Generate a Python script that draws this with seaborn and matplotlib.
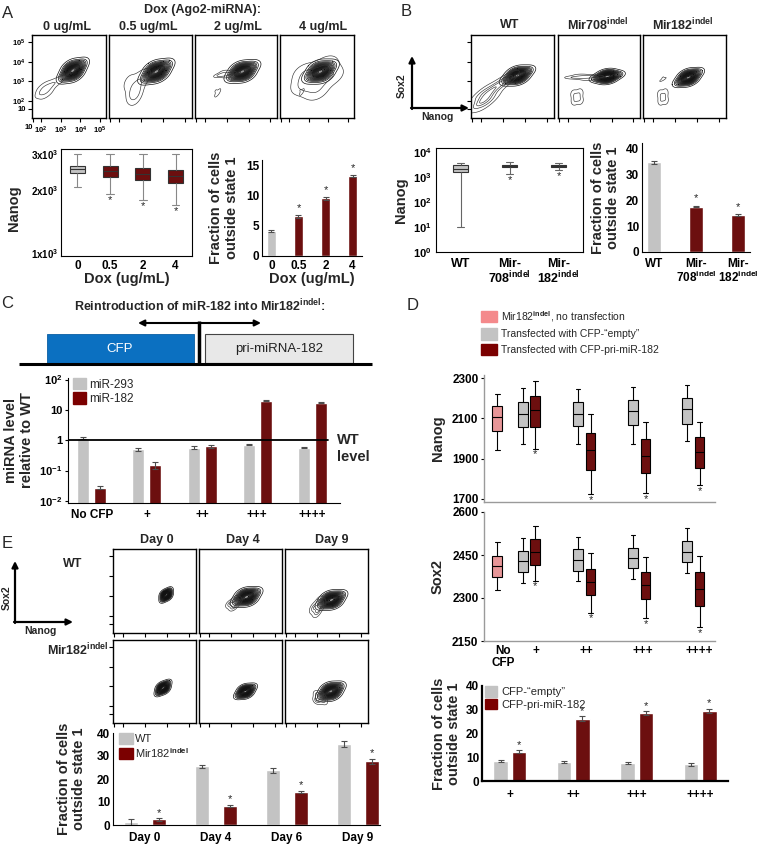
import numpy as np
import pandas as pd
import matplotlib
matplotlib.use("Agg")
import matplotlib.pyplot as plt
import matplotlib.patches as mpatches
from matplotlib.ticker import NullLocator
import seaborn as sns

sns.set_style("ticks")
plt.rcParams["font.family"] = ["Liberation Sans", "DejaVu Sans"]
plt.rcParams["font.weight"] = "bold"
plt.rcParams["axes.labelweight"] = "bold"
plt.rcParams["mathtext.fontset"] = "custom"
plt.rcParams["mathtext.rm"] = "Liberation Sans"
plt.rcParams["mathtext.bf"] = "Liberation Sans:bold"
plt.rcParams["mathtext.it"] = "Liberation Sans:italic"
plt.rcParams["axes.edgecolor"] = "black"
plt.rcParams["axes.facecolor"] = "none"
plt.rcParams["xtick.color"] = "black"
plt.rcParams["ytick.color"] = "black"

W, H = 757, 848
RED = "#7b0000"
GRAY = "#c3c3c3"
PINK = "#f4898b"
BLUE = "#0b70c1"
IND = r"$^{\mathrm{indel}}$"

# ---------------- data ----------------
# flow contour anchors: (log10 Nanog, log10 Sox2, weight); first list = main population
flow_a_0 = [
    [(3.62, 3.55, 2), (3.96, 3.8, 1), (3.28, 3.3, 1), (3.48, 3.74, 1), (3.76, 3.36, 1)],
    [(2.2, 2.55, 3), (2.3, 2.35, 1), (2.12, 2.75, 1), (2.6, 2.9, 1), (2.95, 3.05, 1)],
]
flow_a_05 = [
    [(3.69, 3.5, 2), (4.03, 3.75, 1), (3.35, 3.25, 1), (3.55, 3.69, 1), (3.83, 3.31, 1)],
    [(2.7, 2.5, 3), (2.78, 2.25, 1), (2.45, 2.95, 1), (2.9, 3.1, 1), (3.2, 3.25, 1)],
]
flow_a_2 = [
    [(3.72, 3.5, 2), (4.06, 3.72, 1), (3.38, 3.3, 1), (3.58, 3.69, 1), (3.86, 3.31, 1)],
    [(2.8, 3.35, 1), (3.2, 3.42, 1), (2.6, 3.28, 0.6), (2.9, 3.5, 0.6), (3.0, 3.25, 0.6)],
    [(2.59, 2.41, 2), (2.5, 2.28, 1), (2.68, 2.56, 1), (2.5, 2.52, 1)],
]
flow_a_4 = [
    [(3.6, 3.5, 3), (4.0, 3.72, 1), (3.2, 3.28, 1), (3.45, 3.72, 1), (3.75, 3.28, 1)],
    [(3.3, 3.1, 2), (2.7, 2.8, 1), (4.2, 3.3, 1), (2.8, 3.45, 1), (3.4, 2.5, 1), (3.9, 3.85, 1)],
    [(2.66, 2.46, 2), (2.58, 2.34, 1), (2.74, 2.58, 1), (2.58, 2.56, 1)],
]
flow_b_wt = [
    [(3.65, 3.3, 2), (3.99, 3.48, 1), (3.31, 3.12, 1), (3.55, 3.48, 1), (3.75, 3.12, 1)],
    [(2.1, 2.05, 2), (2.4, 2.5, 1), (2.8, 2.85, 1), (3.2, 3.05, 1), (2.0, 2.35, 1), (2.35, 2.0, 1)],
]
flow_b_708 = [
    [(3.8, 3.25, 2), (4.15, 3.32, 1), (3.45, 3.18, 1), (3.78, 3.42, 1), (3.82, 3.08, 1)],
    [(2.3, 3.2, 1), (2.8, 3.22, 1), (3.2, 3.25, 1), (2.6, 3.32, 0.5), (2.9, 3.1, 0.5)],
    [(2.42, 2.2, 2), (2.3, 2.0, 1), (2.55, 2.42, 1), (2.28, 2.36, 1), (2.56, 2.04, 1)],
]
flow_b_182 = [
    [(3.6, 3.2, 2), (3.9, 3.38, 1), (3.3, 3.02, 1), (3.5, 3.36, 1), (3.7, 3.04, 1)],
    [(2.45, 3.1, 2), (2.35, 3.04, 1), (2.55, 3.16, 1), (2.45, 3.2, 1)],
    [(2.45, 2.2, 2), (2.35, 2.0, 1), (2.56, 2.42, 1), (2.33, 2.36, 1), (2.57, 2.04, 1)],
]
flow_e_wt = [
    [[(3.95, 3.05, 2), (4.06, 3.22, 1), (3.84, 2.88, 1), (3.84, 3.11, 1), (4.06, 2.99, 1)]],
    [[(3.7, 2.95, 2), (4.0, 3.13, 1), (3.4, 2.77, 1), (3.58, 3.12, 1), (3.82, 2.78, 1)],
     [(2.95, 2.6, 1), (3.3, 2.7, 1), (3.1, 2.45, 1), (3.2, 2.85, 0.7)]],
    [[(3.65, 2.8, 2), (3.95, 2.98, 1), (3.35, 2.62, 1), (3.53, 2.97, 1), (3.77, 2.63, 1)],
     [(2.85, 2.4, 1), (3.2, 2.55, 1), (3.0, 2.2, 1), (3.1, 2.75, 0.7)]],
]
flow_e_mir182 = [
    [[(3.81, 2.92, 2), (3.96, 3.1, 1), (3.66, 2.74, 1), (3.7, 3.0, 1), (3.92, 2.84, 1)]],
    [[(3.65, 2.75, 2), (3.87, 2.9, 1), (3.43, 2.6, 1), (3.56, 2.88, 1), (3.74, 2.62, 1)]],
    [[(3.62, 2.75, 2), (3.9, 2.93, 1), (3.34, 2.57, 1), (3.5, 2.92, 1), (3.74, 2.58, 1)],
     [(3.0, 2.3, 1), (3.2, 2.5, 1), (3.0, 2.6, 0.7), (3.3, 2.25, 0.7)]],
]

# A: Nanog box stats [whisker low, q1, median, q3, whisker high]
dox_levels = ["0", "0.5", "2", "4"]
nanog_a = [
    [2085, 2430, 2530, 2630, 3000],
    [1930, 2330, 2480, 2630, 3000],
    [1800, 2250, 2400, 2570, 3000],
    [1710, 2180, 2350, 2520, 3000],
]
frac_a = [4.2, 6.6, 9.6, 13.3]
frac_a_err = [0.2, 0.2, 0.2, 0.2]

# B
b_lines = ["WT", "Mir708", "Mir182"]
nanog_b = [
    [10, 1580, 2100, 3000, 3600],
    [1300, 2500, 2800, 3000, 4000],
    [1900, 2500, 2700, 3000, 3600],
]
frac_b = [34.5, 17.5, 14.2]
frac_b_err = [0.4, 0.3, 0.3]

# C
c_conditions = ["No CFP", "+", "++", "+++", "++++"]
mir293_level = [1.2, 0.5, 0.57, 0.72, 0.57]
mir293_err = [0.08, 0.06, 0.05, 0.03, 0.03]
mir182_level = [0.027, 0.15, 0.62, 20, 17]
mir182_err = [0.003, 0.04, 0.05, 1.0, 0.5]

# D
d_conditions = ["+", "++", "+++", "++++"]
nanog_d_none = [1944, 2037, 2105, 2163, 2222]
nanog_d_empty = [[1973, 2056, 2124, 2183, 2251], [1973, 2061, 2124, 2183, 2246],
                 [1973, 2066, 2134, 2193, 2256], [1988, 2071, 2144, 2202, 2266]]
nanog_d_pri = [[1949, 2056, 2139, 2212, 2285], [1724, 1846, 1941, 2027, 2120],
               [1729, 1827, 1915, 1998, 2080], [1768, 1856, 1934, 2007, 2080]]
sox2_d_none = [2329, 2372, 2411, 2448, 2494]
sox2_d_empty = [[2352, 2391, 2428, 2465, 2510], [2358, 2395, 2431, 2471, 2512],
                [2365, 2405, 2438, 2476, 2520], [2386, 2424, 2461, 2498, 2543]]
sox2_d_pri = [[2361, 2414, 2461, 2507, 2550], [2249, 2309, 2356, 2402, 2457],
              [2229, 2296, 2344, 2390, 2444], [2199, 2272, 2333, 2390, 2448]]
frac_d_empty = [8.5, 8.0, 7.5, 7.0]
frac_d_empty_err = [0.5, 0.6, 0.4, 0.6]
frac_d_pri = [12.3, 26.3, 28.7, 29.4]
frac_d_pri_err = [0.7, 0.9, 0.7, 0.9]

# E
days = ["Day 0", "Day 4", "Day 6", "Day 9"]
frac_e_wt = [1.3, 25.5, 23.7, 35.2]
frac_e_wt_err = [1.2, 0.6, 0.9, 1.2]
frac_e_mir182 = [2.4, 8.3, 14.5, 27.7]
frac_e_mir182_err = [0.6, 0.6, 0.5, 1.0]

# ---------------- layout helpers ----------------
FLOW_X = (1.55, 5.3)
FLOW_Y = (1.14, 5.36)
FLOW_TICKS = [1.6, 2, 3, 4, 5]
FLOW_LABELS = ["10", r"10$^{\mathbf{2}}$", r"10$^{\mathbf{3}}$", r"10$^{\mathbf{4}}$", r"10$^{\mathbf{5}}$"]
# contour levels for the secondary populations of each panel
MINOR_LEVELS = {
    "a0": [[0.15, 0.6]], "a05": [[0.15, 0.6]], "a2": [[0.2, 0.6], [0.35]],
    "a4": [[0.12, 0.45], [0.4]],
    "bwt": [[0.08, 0.3, 0.55, 0.8]], "b708": [[0.15, 0.55], [0.1, 0.55]], "b182": [[0.35], [0.1, 0.6]],
    "e": [[0.12, 0.4, 0.7]],
}

fig = plt.figure(figsize=(W / 100, H / 100), dpi=100)
fig.patch.set_facecolor("white")
ov = fig.add_axes([0, 0, 1, 1])
ov.set_xlim(0, W)
ov.set_ylim(H, 0)
ov.axis("off")


def px_axes(x0, y0, x1, y1):
    return fig.add_axes([x0 / W, 1 - y1 / H, (x1 - x0) / W, (y1 - y0) / H])


def T(x, y, s, size=9, weight="bold", ha="center", va="center", **kw):
    ov.text(x, y, s, fontsize=size, fontweight=weight, ha=ha, va=va, **kw)


def flow_panel(box, comps, minor_levels, left_ticks=False):
    ax = px_axes(*box)
    for k, pts in enumerate(comps):
        xs, ys, ws = zip(*pts)
        if k == 0:
            sns.kdeplot(x=list(xs), y=list(ys), weights=list(ws), levels=[0.55, 1.0], fill=True,
                        bw_adjust=1.3, color="#1c1c1c", alpha=0.9, ax=ax)
            sns.kdeplot(x=list(xs), y=list(ys), weights=list(ws), levels=20, thresh=0.03,
                        bw_adjust=1.3, color="#111111", linewidths=0.5, ax=ax)
        else:
            sns.kdeplot(x=list(xs), y=list(ys), weights=list(ws), levels=minor_levels[k - 1],
                        bw_adjust=1.0, color="#333333", linewidths=0.45, ax=ax)
    ax.set_xlim(*FLOW_X)
    ax.set_ylim(*FLOW_Y)
    ax.set_xlabel("")
    ax.set_ylabel("")
    ax.set_xticks(FLOW_TICKS)
    ax.set_yticks(FLOW_TICKS if left_ticks else [])
    ax.tick_params(direction="out", length=3, width=0.8, labelbottom=False, labelleft=False)
    for s in ax.spines.values():
        s.set_visible(True)
        s.set_linewidth(1.0)
    return ax


def box_df(groups, stats):
    rows = []
    for g, vals in zip(groups, stats):
        for v in vals:
            rows.append({"group": g, "value": v})
    return pd.DataFrame(rows)


def star(ax, x, y, va="bottom", size=8):
    ax.text(x, y, "*", ha="center", va=va, fontsize=size, fontweight="normal")


def add_errors(ax, vals_list, errs_list):
    for cont, vals, errs in zip(ax.containers, vals_list, errs_list):
        xs = [b.get_x() + b.get_width() / 2 for b in cont]
        ax.errorbar(xs, vals, yerr=errs, fmt="none", ecolor="#4d4d4d",
                    elinewidth=0.8, capsize=2, capthick=0.8)
    return ax


# ================= Panel A =================
T(8, 13, "A", 12, "normal")
T(202, 10, "Dox (Ago2-miRNA):", 9)
for x, s in zip([67, 148, 238, 323], ["0 ug/mL", "0.5 ug/mL", "2 ug/mL", "4 ug/mL"]):
    T(x, 27, s, 9)

a_boxes = [(32, 35, 106, 118), (109, 35, 192, 118), (195, 35, 277, 118), (280, 35, 354, 118)]
a_keys = ["a0", "a05", "a2", "a4"]
for i, (box, comps) in enumerate(zip(a_boxes, [flow_a_0, flow_a_05, flow_a_2, flow_a_4])):
    ax = flow_panel(box, comps, MINOR_LEVELS[a_keys[i]], left_ticks=(i == 0))
    if i == 0:
        ax.tick_params(labelbottom=True, labelleft=True, labelsize=5.5, pad=1.5)
        ax.set_xticklabels(FLOW_LABELS)
        ax.set_yticklabels(FLOW_LABELS)
        ax.get_xticklabels()[0].set_ha("right")

# A box plot
ax = px_axes(61, 149, 192, 256)
sns.boxplot(data=box_df(dox_levels, nanog_a), x="group", y="value", hue="group",
            palette=[GRAY, RED, RED, RED], whis=(0, 100), width=0.46,
            linecolor="#333333", linewidth=0.8, legend=False, ax=ax,
            whiskerprops={"color": "#888888"}, capprops={"color": "#888888"})
ax.set_yscale("log")
ax.set_ylim(967, 3170)
ax.yaxis.set_minor_locator(NullLocator())
ax.set_yticks([1000, 2000, 3000])
ax.set_yticklabels([r"1x10$^{\mathbf{3}}$", r"2x10$^{\mathbf{3}}$", r"3x10$^{\mathbf{3}}$"])
ax.tick_params(axis="y", labelsize=7, length=0, pad=2)
ax.tick_params(axis="x", labelsize=8.5, length=0, pad=3)
ax.set_xlabel("Dox (ug/mL)", fontsize=10.5, labelpad=0)
ax.set_ylabel("Nanog", fontsize=10.5, va="center")
ax.yaxis.set_label_coords(-0.36, 0.45)
for i in range(1, 4):
    star(ax, i, nanog_a[i][0] * 0.985, va="top")

# A bar plot
ax = px_axes(262, 160, 362, 256)
sns.barplot(data=pd.DataFrame({"dose": dox_levels, "frac": frac_a}), x="dose", y="frac",
            hue="dose", palette=[GRAY, RED, RED, RED], width=0.36, errorbar=None,
            legend=False, ax=ax)
ax.errorbar(range(4), frac_a, yerr=frac_a_err, fmt="none", ecolor="#4d4d4d",
            elinewidth=0.8, capsize=2, capthick=0.8)
ax.set_ylim(0, 16)
ax.set_yticks([0, 5, 10, 15])
sns.despine(ax=ax)
ax.tick_params(axis="y", labelsize=8.5, length=0, pad=2)
ax.tick_params(axis="x", labelsize=8.5, length=0, pad=3)
ax.set_xlabel("Dox (ug/mL)", fontsize=10.5, labelpad=0)
ax.set_ylabel("Fraction of cells\noutside state 1", fontsize=10.5, va="center", linespacing=1.1)
ax.yaxis.set_label_coords(-0.38, 0.5)
for i in range(1, 4):
    star(ax, i, frac_a[i] + frac_a_err[i] + 0.3)

# ================= Panel B =================
T(406, 11, "B", 12, "normal")
for x, s in zip([510, 598, 683], ["WT", "Mir708" + IND, "Mir182" + IND]):
    T(x, 25, s, 9)
b_boxes = [(471, 35, 554, 118), (558, 35, 640, 118), (643, 35, 726, 118)]
b_keys = ["bwt", "b708", "b182"]
for i, (box, comps) in enumerate(zip(b_boxes, [flow_b_wt, flow_b_708, flow_b_182])):
    flow_panel(box, comps, MINOR_LEVELS[b_keys[i]], left_ticks=(i == 0))
ov.annotate("", xy=(412, 56), xytext=(412, 109),
            arrowprops=dict(arrowstyle="-|>", color="black", lw=1.6, mutation_scale=9, shrinkA=0, shrinkB=0))
ov.annotate("", xy=(469, 108), xytext=(411, 108),
            arrowprops=dict(arrowstyle="-|>", color="black", lw=1.6, mutation_scale=9, shrinkA=0, shrinkB=0))
T(402, 86, "Sox2", 7.5, rotation=90)
T(437, 117, "Nanog", 7.5)

# B box plot
ax = px_axes(436, 148, 583, 252)
sns.boxplot(data=box_df(b_lines, nanog_b), x="group", y="value", hue="group",
            palette=[GRAY, RED, RED], whis=(0, 100), width=0.3,
            linecolor="#333333", linewidth=0.8, legend=False, ax=ax,
            whiskerprops={"color": "#666666"}, capprops={"color": "#666666"})
ax.set_yscale("log")
ax.set_ylim(1, 10 ** 4.16)
ax.yaxis.set_minor_locator(NullLocator())
ax.set_yticks([1, 10, 100, 1000, 10000])
ax.set_yticklabels([r"10$^{\mathbf{%d}}$" % k for k in range(5)])
ax.set_xticks(range(3))
ax.set_xticklabels(["WT", "Mir-\n708" + IND, "Mir-\n182" + IND], linespacing=1.0)
ax.tick_params(axis="y", labelsize=8, length=0, pad=3)
ax.tick_params(axis="x", labelsize=9, length=0, pad=4)
ax.set_xlabel("")
ax.set_ylabel("Nanog", fontsize=10.5, va="center")
ax.yaxis.set_label_coords(-0.24, 0.5)
for i in range(1, 3):
    star(ax, i, nanog_b[i][0] * 0.93, va="top")

# B bar plot
ax = px_axes(642, 143, 750, 252)
sns.barplot(data=pd.DataFrame({"line": b_lines, "frac": frac_b}), x="line", y="frac",
            hue="line", palette=[GRAY, RED, RED], width=0.33, errorbar=None,
            legend=False, ax=ax)
ax.errorbar(range(3), frac_b, yerr=frac_b_err, fmt="none", ecolor="#4d4d4d",
            elinewidth=0.8, capsize=2, capthick=0.8)
ax.set_ylim(0, 42)
ax.set_yticks([0, 10, 20, 30, 40])
sns.despine(ax=ax)
ax.set_xticks(range(3))
ax.set_xticklabels(["WT", "Mir-\n708" + IND, "Mir-\n182" + IND], linespacing=1.0)
ax.tick_params(axis="y", labelsize=8.5, length=0, pad=2)
ax.tick_params(axis="x", labelsize=8.5, length=0, pad=4)
ax.set_xlabel("")
ax.set_ylabel("Fraction of cells\noutside state 1", fontsize=10.5, va="center", linespacing=1.1)
ax.yaxis.set_label_coords(-0.34, 0.5)
for i in range(1, 3):
    star(ax, i, frac_b[i] + frac_b_err[i] + 1.0)

# ================= Panel C =================
T(7, 304, "C", 12, "normal")
T(200, 306, "Reintroduction of miR-182 into Mir182" + IND + ":", 9)
ov.annotate("", xy=(138, 323), xytext=(261, 323),
            arrowprops=dict(arrowstyle="<|-|>", color="black", lw=1.5, mutation_scale=9, shrinkA=0, shrinkB=0))
ov.plot([199, 199], [321, 364], color="black", lw=2.5, solid_capstyle="butt")
ov.add_patch(mpatches.Rectangle((47, 334), 147, 29, facecolor=BLUE, edgecolor="#0a5ea3", lw=0.6))
ov.add_patch(mpatches.Rectangle((205, 334), 148, 29, facecolor="#e8e8e8", edgecolor="#444444", lw=0.8))
T(120, 349, "CFP", 9.5, "normal", color="white")
T(279, 349, "pri-miRNA-182", 9.5, "normal", color="#222222")
ov.plot([19, 372], [364, 364], color="black", lw=2.2, solid_capstyle="butt")

ax = px_axes(68, 378, 340, 503)
df_c = pd.DataFrame({"cond": c_conditions * 2,
                     "mir": ["miR-293"] * 5 + ["miR-182"] * 5,
                     "level": mir293_level + mir182_level})
sns.barplot(data=df_c, x="cond", y="level", hue="mir", palette=[GRAY, RED],
            width=0.62, gap=0.3, errorbar=None, legend=False, ax=ax)
add_errors(ax, [mir293_level, mir182_level], [mir293_err, mir182_err])
ax.set_yscale("log")
ax.set_ylim(10 ** -2.07, 10 ** 2.05)
ax.set_xlim(-0.43, 4.5)
ax.yaxis.set_minor_locator(NullLocator())
ax.set_yticks([0.01, 0.1, 1, 10, 100])
ax.set_yticklabels([r"10$^{\mathbf{-2}}$", r"10$^{\mathbf{-1}}$", "1", "10", r"10$^{\mathbf{2}}$"])
ax.axhline(1, xmax=0.956, color="black", lw=1.3)
sns.despine(ax=ax)
ax.tick_params(axis="y", labelsize=8, length=2, pad=2)
ax.tick_params(axis="x", labelsize=8.5, length=0, pad=4)
ax.set_xlabel("")
ax.set_ylabel("miRNA level\nrelative to WT", fontsize=10.5, va="center", linespacing=1.1)
ax.yaxis.set_label_coords(-0.18, 0.5)
ax.legend(handles=[mpatches.Patch(color=GRAY, label="miR-293"), mpatches.Patch(color=RED, label="miR-182")],
          loc="upper left", bbox_to_anchor=(0.018, 1.0), frameon=False,
          prop={"weight": "normal", "size": 8.5}, handlelength=1.1, handleheight=1.1,
          handletextpad=0.3, labelspacing=0.15, borderpad=0, borderaxespad=0)
T(337, 440, "WT", 10.5, ha="left")
T(337, 457, "level", 10.5, ha="left")

# ================= Panel D =================
T(413, 305, "D", 12, "normal")
ov.legend(handles=[mpatches.Patch(color=PINK, label="Mir182" + IND + ", no transfection"),
                   mpatches.Patch(color=GRAY, label="Transfected with CFP-\u201cempty\u201d"),
                   mpatches.Patch(color=RED, label="Transfected with CFP-pri-miR-182")],
          loc="upper left", bbox_to_anchor=(481, 309), bbox_transform=ov.transData,
          frameon=False, prop={"weight": "normal", "size": 7.5}, handlelength=1.55,
          handleheight=1.25, handletextpad=0.4, labelspacing=0.45, borderpad=0, borderaxespad=0)

D_POS_NONE = 0.42
D_POS_EMPTY = [0.89, 1.89, 2.89, 3.87]
D_POS_PRI = [1.11, 2.12, 3.12, 4.10]
D_XTICKS = [0.53, 1.13, 2.05, 3.07, 4.1]


def d_box_df(none, empty, pri):
    rows = [{"pos": D_POS_NONE, "kind": "none", "value": v} for v in none]
    for p, vals in zip(D_POS_EMPTY, empty):
        rows += [{"pos": p, "kind": "empty", "value": v} for v in vals]
    for p, vals in zip(D_POS_PRI, pri):
        rows += [{"pos": p, "kind": "pri", "value": v} for v in vals]
    return pd.DataFrame(rows)


d_panels = [((484, 375, 715, 502), nanog_d_none, nanog_d_empty, nanog_d_pri, "Nanog",
             (1685, 2315), [1700, 1900, 2100, 2300]),
            ((484, 512, 715, 641), sox2_d_none, sox2_d_empty, sox2_d_pri, "Sox2",
             (2150, 2600), [2150, 2300, 2450, 2600])]
for j, (box, none, empty, pri, lab, ylim, yt) in enumerate(d_panels):
    ax = px_axes(*box)
    sns.boxplot(data=d_box_df(none, empty, pri), x="pos", y="value", hue="kind",
                hue_order=["none", "empty", "pri"], palette=[PINK, GRAY, RED],
                native_scale=True, dodge=False, whis=(0, 100), width=0.78,
                linecolor="black", linewidth=0.8, legend=False, ax=ax)
    ax.set_xlim(0.18, 4.38)
    ax.set_ylim(*ylim)
    ax.set_yticks(yt)
    ax.set_xticks(D_XTICKS)
    if j == 1:
        ax.set_xticklabels(["No\nCFP", "+", "++", "+++", "++++"], linespacing=1.0)
    else:
        ax.set_xticklabels([])
    sns.despine(ax=ax)
    for s in ["left", "bottom"]:
        ax.spines[s].set_color("#9a9a9a")
        ax.spines[s].set_linewidth(1.0)
    ax.tick_params(axis="y", labelsize=8.5, length=2, pad=2)
    ax.tick_params(axis="x", labelsize=8.5, length=0, pad=3)
    ax.set_xlabel("")
    ax.set_ylabel(lab, fontsize=10.5, va="center")
    ax.yaxis.set_label_coords(-0.2, 0.5)
    span = ylim[1] - ylim[0]
    for p, vals in zip(D_POS_PRI, pri):
        star(ax, p, vals[0] - span * 0.005, va="top")

ax = px_axes(482, 686, 728, 781)
df_d = pd.DataFrame({"cond": d_conditions * 2,
                     "kind": ["empty"] * 4 + ["pri"] * 4,
                     "frac": frac_d_empty + frac_d_pri})
sns.barplot(data=df_d, x="cond", y="frac", hue="kind", palette=[GRAY, RED],
            width=0.58, gap=0.2, errorbar=None, legend=False, ax=ax)
add_errors(ax, [frac_d_empty, frac_d_pri], [frac_d_empty_err, frac_d_pri_err])
ax.set_ylim(0, 40)
ax.set_yticks([0, 10, 20, 30, 40])
sns.despine(ax=ax)
for s in ["left", "bottom"]:
    ax.spines[s].set_linewidth(1.6)
ax.tick_params(axis="y", labelsize=8.5, length=0, pad=2)
ax.tick_params(axis="x", labelsize=8.5, length=0, pad=6)
ax.set_xlabel("")
ax.set_ylabel("Fraction of cells\noutside state 1", fontsize=10.5, va="center", linespacing=1.1)
ax.yaxis.set_label_coords(-0.146, 0.5)
for b, v, e in zip(ax.containers[1], frac_d_pri, frac_d_pri_err):
    star(ax, b.get_x() + b.get_width() / 2, v + e + 0.2)
ax.legend(handles=[mpatches.Patch(color=GRAY, label="CFP-\u201cempty\u201d"),
                   mpatches.Patch(color=RED, label="CFP-pri-miR-182")],
          loc="upper left", bbox_to_anchor=(0.012, 1.0), frameon=False,
          prop={"weight": "normal", "size": 8}, handlelength=1.1, handleheight=1.1,
          handletextpad=0.4, labelspacing=0.15, borderpad=0, borderaxespad=0)

# ================= Panel E =================
T(7, 543, "E", 12, "normal")
for x, s in zip([157, 243, 332], ["Day 0", "Day 4", "Day 9"]):
    T(x, 540, s, 9)
T(73, 564, "WT", 9)
T(78, 650, "Mir182" + IND, 9)
ov.annotate("", xy=(15, 561), xytext=(15, 623),
            arrowprops=dict(arrowstyle="-|>", color="black", lw=1.6, mutation_scale=9, shrinkA=0, shrinkB=0))
ov.annotate("", xy=(73, 622), xytext=(14, 622),
            arrowprops=dict(arrowstyle="-|>", color="black", lw=1.6, mutation_scale=9, shrinkA=0, shrinkB=0))
T(7, 598, "Sox2", 7.5, rotation=90)
T(40, 631, "Nanog", 7.5)

e_cols = [(113, 196), (199, 282), (285, 368)]
e_rows = [(549, 633), (640, 723)]
for r, flows in enumerate([flow_e_wt, flow_e_mir182]):
    for c, comps in enumerate(flows):
        flow_panel((e_cols[c][0], e_rows[r][0], e_cols[c][1], e_rows[r][1]), comps,
                   MINOR_LEVELS["e"], left_ticks=(c == 0))

ax = px_axes(113, 733, 380, 825)
df_e = pd.DataFrame({"day": days * 2,
                     "line": ["WT"] * 4 + ["Mir182"] * 4,
                     "frac": frac_e_wt + frac_e_mir182})
sns.barplot(data=df_e, x="day", y="frac", hue="line", palette=[GRAY, RED],
            width=0.78, gap=0.49, errorbar=None, legend=False, ax=ax)
add_errors(ax, [frac_e_wt, frac_e_mir182], [frac_e_wt_err, frac_e_mir182_err])
ax.set_xlim(-0.45, 3.31)
ax.set_ylim(0, 40)
ax.set_yticks([0, 10, 20, 30, 40])
sns.despine(ax=ax)
ax.tick_params(axis="y", labelsize=8.5, length=0, pad=2)
ax.tick_params(axis="x", labelsize=8.5, length=0, pad=5)
ax.set_xlabel("")
ax.set_ylabel("Fraction of cells\noutside state 1", fontsize=10.5, va="center", linespacing=1.1)
ax.yaxis.set_label_coords(-0.154, 0.5)
for b, v, e in zip(ax.containers[1], frac_e_mir182, frac_e_mir182_err):
    star(ax, b.get_x() + b.get_width() / 2, v + e + 0.2)
ax.legend(handles=[mpatches.Patch(color=GRAY, label="WT"),
                   mpatches.Patch(color=RED, label="Mir182" + IND)],
          loc="upper left", bbox_to_anchor=(0.022, 1.0), frameon=False,
          prop={"weight": "normal", "size": 8}, handlelength=1.25, handleheight=1.1,
          handletextpad=0.2, labelspacing=0.15, borderpad=0, borderaxespad=0)

fig.savefig("out.png", dpi=100, facecolor="white")
